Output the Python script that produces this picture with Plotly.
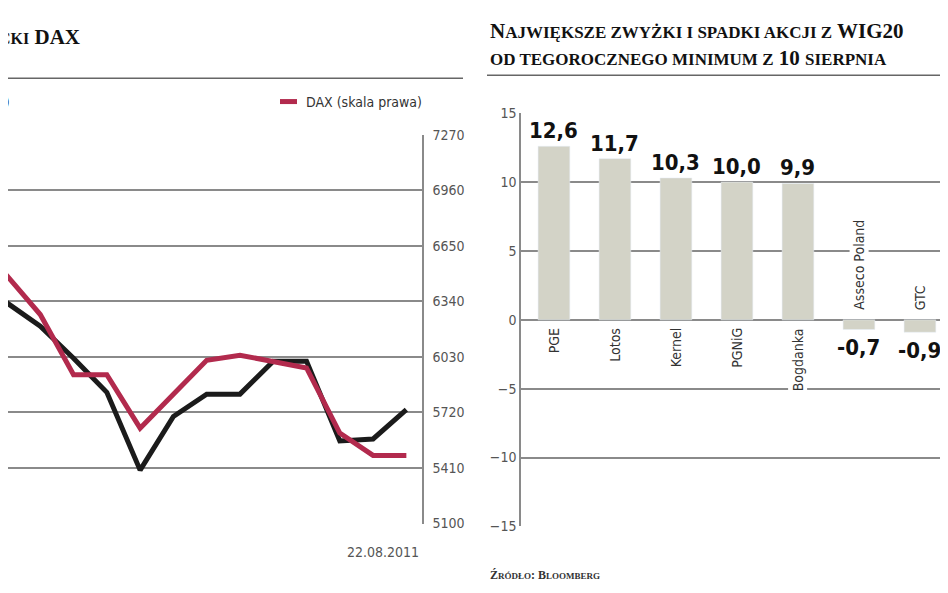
import plotly.graph_objects as go

# Page body has an 8px margin; design in reference pixels and offset.
W, H = 932, 577
OFF = 8

idx = list(range(-1, 13))
wig = [6538, 6331, 6201, 6022, 5832, 5398, 5697, 5822, 5822, 6006, 6006, 5561, 5572, 5735]
dax = [6646, 6483, 6266, 5930, 5930, 5632, 5821, 6011, 6039, 6006, 5968, 5605, 5480, 5480]
dax_ticks = [5100, 5410, 5720, 6030, 6340, 6650, 6960, 7270]

stocks = ["PGE", "Lotos", "Kernel", "PGNiG", "Bogdanka", "Asseco Poland", "GTC"]
changes = [12.6, 11.7, 10.3, 10.0, 9.9, -0.7, -0.9]
bar_ticks = [-15, -10, -5, 0, 5, 10, 15]

RED = "#b22a4d"
BLK = "#1b1b1b"
GRID = "#8a8a8a"
COND = "DejaVu Sans Condensed, Liberation Sans Narrow, Roboto"
TICKF = dict(family=COND, size=14, color="#555")

def px(x): return min(max((x - OFF) / W, 0), 1)
def py(y): return min(max(1 - (y - OFF) / H, 0), 1)

fig = go.Figure()
fig.add_trace(go.Scatter(x=idx, y=wig, mode="lines", line=dict(color=BLK, width=5),
                         xaxis="x", yaxis="y", showlegend=False))
fig.add_trace(go.Scatter(x=idx, y=dax, mode="lines", line=dict(color=RED, width=5),
                         xaxis="x", yaxis="y2", showlegend=False))
fig.add_trace(go.Bar(x=list(range(len(stocks))), y=changes, marker_color="#d3d3c7",
                     width=0.52, xaxis="x3", yaxis="y3", showlegend=False))

VALF = dict(family=COND, size=22, color="#111")
LABF = dict(family=COND, size=14, color="#333")
ann = []
for i, (s, v) in enumerate(zip(stocks, changes)):
    lab = f"{v:.1f}".replace(".", ",")
    if v >= 0:
        ann.append(dict(x=i, y=v, xref="x3", yref="y3", text=f"<b>{lab}</b>", showarrow=False,
                        yanchor="bottom", yshift=1, font=VALF))
        ann.append(dict(x=i, y=0, xref="x3", yref="y3", text=s, showarrow=False, textangle=-90,
                        yanchor="top", yshift=-6, bgcolor="white", font=LABF))
    else:
        ann.append(dict(x=i, y=v, xref="x3", yref="y3", text=f"<b>{lab}</b>", showarrow=False,
                        yanchor="top", yshift=-4, font=VALF))
        ann.append(dict(x=i, y=0, xref="x3", yref="y3", text=s, showarrow=False, textangle=-90,
                        yanchor="bottom", yshift=8, bgcolor="white", font=LABF))

serif = "Liberation Serif, DejaVu Serif"
ann += [
    dict(x=px(82), y=py(30), xref="paper", yref="paper", xanchor="right", yanchor="middle", showarrow=False,
         text="<b><span style='font-size:16px'>CKI</span> DAX</b>",
         font=dict(family=serif, size=21, color="#111")),
    dict(x=px(488), y=py(37), xref="paper", yref="paper", xanchor="left", yanchor="middle", showarrow=False, align="left",
         text="<b>N<span style='font-size:17px'>AJWIĘKSZE ZWYŻKI I SPADKI AKCJI Z</span> WIG20<br>"
              "<span style='font-size:17px'>OD TEGOROCZNEGO MINIMUM Z</span> 10 <span style='font-size:17px'>SIERPNIA</span></b>",
         font=dict(family=serif, size=21, color="#111")),
    dict(x=px(12), y=py(96), xref="paper", yref="paper", xanchor="right", yanchor="middle", showarrow=False,
         text="a)", font=LABF),
    dict(x=px(304), y=py(96), xref="paper", yref="paper", xanchor="left", yanchor="middle", showarrow=False,
         text="DAX (skala prawa)", font=LABF),
    dict(x=px(421), y=py(559), xref="paper", yref="paper", xanchor="right", yanchor="middle", showarrow=False,
         text="22.08.2011", font=TICKF),
    dict(x=px(488), y=py(583), xref="paper", yref="paper", xanchor="left", yanchor="middle", showarrow=False,
         text="<b>Ź<span style='font-size:9px'>RÓDŁO</span>: B<span style='font-size:9px'>LOOMBERG</span></b>",
         font=dict(family=serif, size=12, color="#333")),
]

shapes = [
    dict(type="rect", xref="paper", yref="paper", x0=0, x1=px(463), y0=py(0), y1=py(8), fillcolor="#161616", line_width=0),
    dict(type="rect", xref="paper", yref="paper", x0=px(487), x1=1, y0=py(0), y1=py(8), fillcolor="#161616", line_width=0),
    dict(type="line", xref="paper", yref="paper", x0=0, x1=px(463), y0=py(72), y1=py(72), line=dict(color="#666", width=1.5)),
    dict(type="line", xref="paper", yref="paper", x0=px(487), x1=1, y0=py(69), y1=py(69), line=dict(color="#666", width=1.5)),
    dict(type="line", xref="paper", yref="paper", x0=px(280), x1=px(297), y0=py(96), y1=py(96), line=dict(color=RED, width=5)),
]

# left plot: ref x 8..422 covers index range
x0i = -0.21 + (OFF / 33.3)
fig.update_layout(
    width=W, height=H, margin=dict(l=0, r=0, t=0, b=0),
    paper_bgcolor="white", plot_bgcolor="white",
    xaxis=dict(domain=[0, px(422)], range=[x0i, 12.47], visible=False),
    yaxis=dict(domain=[py(530), py(130)], range=[5100, 7270], visible=False),
    yaxis2=dict(overlaying="y", side="right", range=[5100, 7270], tickvals=dax_ticks,
                showgrid=True, gridcolor=GRID, gridwidth=1.5, showline=True, linecolor=GRID, linewidth=1.5,
                zeroline=False, tickfont=TICKF, ticks="", ticklabelstandoff=6),
    xaxis3=dict(domain=[px(521), 1], range=[-0.54, 6.46 - OFF / 61], visible=False),
    yaxis3=dict(domain=[py(533), py(108)], anchor="x3", range=[-15, 15], tickvals=bar_ticks,
                showgrid=True, gridcolor=GRID, gridwidth=1.5,
                showline=True, linecolor=GRID, linewidth=1.5, zeroline=False, tickfont=TICKF, ticks=""),
    annotations=ann, shapes=shapes,
)
fig.write_html("out.html")
